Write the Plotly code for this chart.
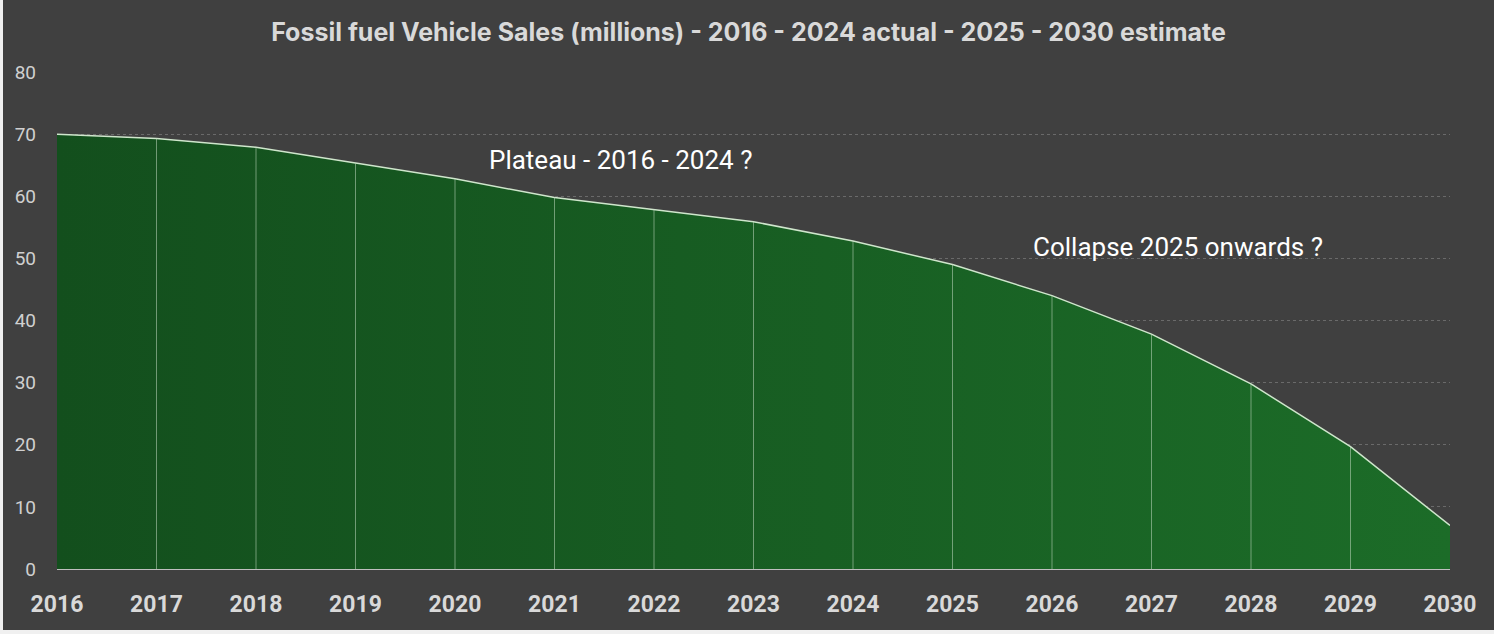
import plotly.graph_objects as go

years = [2016, 2017, 2018, 2019, 2020, 2021, 2022, 2023, 2024, 2025, 2026, 2027, 2028, 2029, 2030]
sales = [70, 69.3, 67.9, 65.3, 62.8, 59.8, 57.8, 55.9, 52.8, 49.0, 44.0, 37.8, 29.8, 19.7, 7.0]
y_ticks = [0, 10, 20, 30, 40, 50, 60, 70, 80]
title_text = "Fossil fuel Vehicle Sales (millions) - 2016 - 2024 actual - 2025 - 2030 estimate"
note_plateau = "Plateau - 2016 - 2024 ?"
note_collapse = "Collapse 2025 onwards ?"

BG = "#404040"
W, H = 1491, 630
fig = go.Figure()

fig.add_trace(go.Scatter(
    x=years, y=sales, mode="lines",
    line=dict(color="#cfe6cc", width=1.5),
    fill="tozeroy",
    fillgradient=dict(type="horizontal",
                      colorscale=[[0, "#134f1d"], [1, "#1c6c28"]]),
    hoverinfo="x+y", showlegend=False,
))

# drop lines
dx, dy = [], []
for xv, yv in zip(years[1:-1], sales[1:-1]):
    dx += [xv, xv, None]
    dy += [0, yv, None]
fig.add_trace(go.Scatter(x=dx, y=dy, mode="lines",
                         line=dict(color="rgba(190,215,190,0.55)", width=1),
                         hoverinfo="skip", showlegend=False))

fig.add_annotation(x=2021.66, y=65.8, text=note_plateau, showarrow=False,
                   font=dict(family="Roboto", size=26, color="#ffffff"))
fig.add_annotation(x=2027.27, y=51.8, text=note_collapse, showarrow=False,
                   font=dict(family="Roboto", size=26, color="#ffffff"))

fig.update_layout(
    width=W, height=H,
    margin=dict(l=52, r=44, t=72, b=58),
    paper_bgcolor=BG, plot_bgcolor=BG,
    title=dict(text="<b>" + title_text + "</b>", x=0.5, xanchor="center",
               xref="container",
               y=1 - 32 / H, yanchor="middle",
               font=dict(family="Inter", size=25, color="#d9d9d9")),
    xaxis=dict(range=[2016, 2030], tickmode="array", tickvals=years,
               ticktext=["<b>%d</b>" % y for y in years],
               tickfont=dict(family="Roboto", size=23, color="#d9d9d9"),
               showgrid=False, zeroline=False, showline=False,
               ticks="", ticklabelstandoff=19, fixedrange=True),
    yaxis=dict(range=[0, 80], tickmode="array", tickvals=y_ticks,
               tickfont=dict(family="Roboto", size=19, color="#d0d0d0"),
               showgrid=True, gridcolor="#6a6a6a", griddash="dot", gridwidth=1,
               zeroline=True, zerolinecolor="#bfbfbf", zerolinewidth=1.5,
               showline=False, ticks="", ticklabelstandoff=20, fixedrange=True),
)

fig.write_html("out.html",
               post_script="document.body.style.margin='0 0 0 3px';"
                           "document.body.style.background='#f0f0f0';")
